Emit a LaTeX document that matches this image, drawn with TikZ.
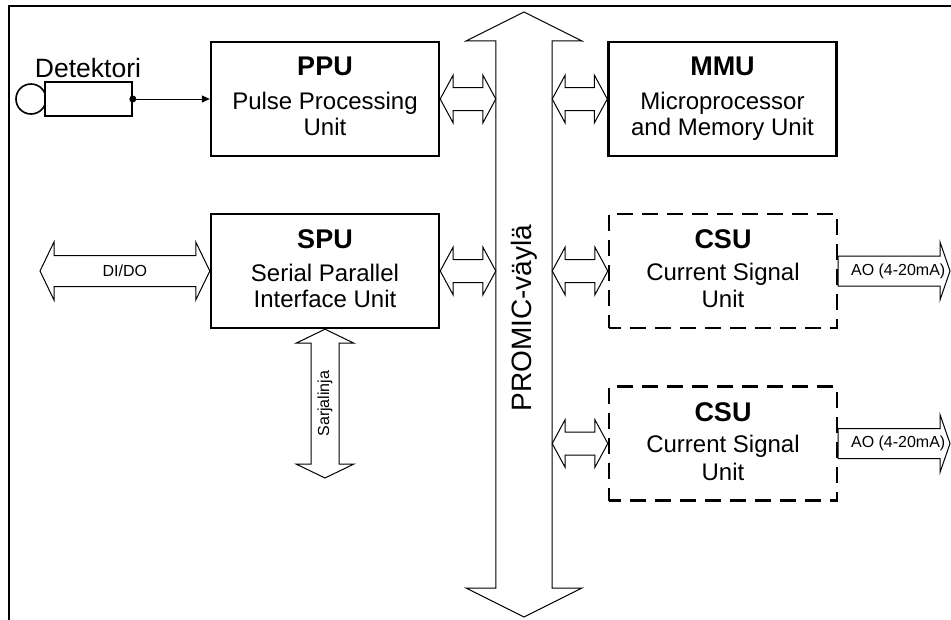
\documentclass[tikz,border=0pt]{standalone}
\usepackage{fontspec}
\setmainfont{Liberation Sans}
\usetikzlibrary{calc,arrows.meta}
\newcommand\hdarrow[5][13pt]{%
  \draw[fat] let \p1=#2, \p2=#3 in
  (\x1,\y1) -- (\x1+#1,\y1+#5) -- (\x1+#1,\y1+#4) -- (\x2-#1,\y1+#4) -- (\x2-#1,\y1+#5) -- (\x2,\y1)
  -- (\x2-#1,\y1-#5) -- (\x2-#1,\y1-#4) -- (\x1+#1,\y1-#4) -- (\x1+#1,\y1-#5) -- cycle;}
\newcommand\vdarrow[5][14pt]{%
  \draw[fat] let \p1=#2, \p2=#3 in
  (\x1,\y1) -- (\x1+#5,\y1-#1) -- (\x1+#4,\y1-#1) -- (\x1+#4,\y2+#1) -- (\x1+#5,\y2+#1) -- (\x1,\y2)
  -- (\x1-#5,\y2+#1) -- (\x1-#4,\y2+#1) -- (\x1-#4,\y1-#1) -- (\x1-#5,\y1-#1) -- cycle;}
\newcommand\harrowr[5][10pt]{%
  \draw[fat] let \p1=#2, \p2=#3 in
  (\x1,\y1+#4) -- (\x2-#1,\y1+#4) -- (\x2-#1,\y1+#5) -- (\x2,\y1)
  -- (\x2-#1,\y1-#5) -- (\x2-#1,\y1-#4) -- (\x1,\y1-#4) -- cycle;}
\begin{document}
\begin{tikzpicture}[x=1pt,y=-1pt,
  box/.style={draw,line width=2.4pt,minimum width=228pt,minimum height=114pt,inner sep=0pt},
  dbox/.style={box,dash pattern=on 16pt off 9pt,dash phase=4pt},
  title/.style={font=\fontsize{27}{30}\selectfont\bfseries,anchor=base,inner sep=0pt},
  body/.style={font=\fontsize{24}{28}\selectfont,anchor=base,inner sep=0pt},
  small/.style={font=\fontsize{16}{18}\selectfont,inner sep=0pt},
  fat/.style={draw,line width=1pt,fill=white,line join=miter}]
\useasboundingbox (0,0) rectangle (951,619);
% outer frame
\draw[line width=2.8pt] (9,622) -- (9,6) -- (953,6);

% boxes
\node[box] (ppu) at (325,99) {};
\node[box] (mmu) at (722.5,99) {};
\node[box] (spu) at (325,271) {};
\node[dbox] (csu1) at (723,271) {};
\node[dbox] (csu2) at (723,443.5) {};

% box texts
\node[title] (ppuA) at ($(ppu.north)+(0,35)$) {PPU};
\node[body] (ppuB) at ($(ppu.north)+(0,68.5)$) {Pulse Processing};
\node[body] (ppuC) at ($(ppu.north)+(0,95)$) {Unit};
\node[title] (mmuA) at ($(mmu.north)+(0,35)$) {MMU};
\node[body] (mmuB) at ($(mmu.north)+(0,68.5)$) {Microprocessor};
\node[body] (mmuC) at ($(mmu.north)+(0,95)$) {and Memory Unit};
\node[title] (spuA) at ($(spu.north)+(0,36)$) {SPU};
\node[body] (spuB) at ($(spu.north)+(0,68.5)$) {Serial Parallel};
\node[body] (spuC) at ($(spu.north)+(0,95)$) {Interface Unit};
\node[title] (csu1A) at ($(csu1.north)+(0,36)$) {CSU};
\node[body] (csu1B) at ($(csu1.north)+(0,67.5)$) {Current Signal};
\node[body] (csu1C) at ($(csu1.north)+(0,95)$) {Unit};
\node[title] (csu2A) at ($(csu2.north)+(0,36)$) {CSU};
\node[body] (csu2B) at ($(csu2.north)+(0,67.5)$) {Current Signal};
\node[body] (csu2C) at ($(csu2.north)+(0,95)$) {Unit};

% bus
\node[minimum width=56pt,minimum height=547pt,inner sep=0pt] (bus) at (524,314.5) {};
\coordinate (busT) at (524,12);
\coordinate (busB) at (524,617);
\draw[fat] (busT) -- (582,41) -- (bus.north east) -- (bus.south east) -- (582,588) -- (busB)
  -- (466,588) -- (bus.south west) -- (bus.north west) -- (466,41) -- cycle;
\node[rotate=90,font=\fontsize{28}{30}\selectfont,inner sep=0pt] (busL) at (524,318) {PROMIC-väylä};

% bus connectors
\hdarrow{(ppu.east)}{(bus.west |- ppu.east)}{11.5pt}{24pt}
\hdarrow{(bus.east |- mmu.west)}{(mmu.west)}{11.5pt}{24pt}
\hdarrow{(spu.east)}{(bus.west |- spu.east)}{11.5pt}{24pt}
\hdarrow{(bus.east |- csu1.west)}{(csu1.west)}{11.5pt}{24pt}
\hdarrow{(bus.east |- csu2.west)}{(csu2.west)}{11.5pt}{24pt}

% DI/DO
\coordinate (dido) at (40,271);
\hdarrow[14pt]{(dido)}{(spu.west)}{15.5pt}{29pt}
\node[small] (didoL) at ($(dido)!0.5!(spu.west)$) {DI/DO};

% Sarjalinja
\coordinate (sarjB) at (325,478);
\vdarrow{(spu.south)}{(sarjB)}{14pt}{29pt}
\node[small,rotate=90] (sarjL) at ($(spu.south)!0.5!(sarjB)$) {Sarjalinja};

% AO outputs
\coordinate (ao1) at (950,271);
\coordinate (ao2) at (950,443.5);
\harrowr{(csu1.east)}{(ao1)}{15pt}{29pt}
\harrowr{(csu2.east)}{(ao2)}{15pt}{29pt}
\node[small] (ao1L) at ($(csu1.east)+(60,0)$) {AO (4-20mA)};
\node[small] (ao2L) at ($(csu2.east)+(60,0)$) {AO (4-20mA)};

% detector
\node[draw,circle,line width=1.6pt,minimum size=30pt,inner sep=0pt] (detC) at (31,99) {};
\node[draw,line width=1.6pt,minimum width=87pt,minimum height=34pt,inner sep=0pt,fill=white] (det) at (88.5,99) {};
\node[font=\fontsize{26.5}{30}\selectfont,anchor=base,inner sep=0pt] (detL) at (88,77) {Detektori};
\fill (det.east) circle (3.5pt);
\draw[line width=1pt,-{Triangle[length=8pt,width=7pt]}] (det.east) -- (ppu.west);
\end{tikzpicture}
\end{document}
